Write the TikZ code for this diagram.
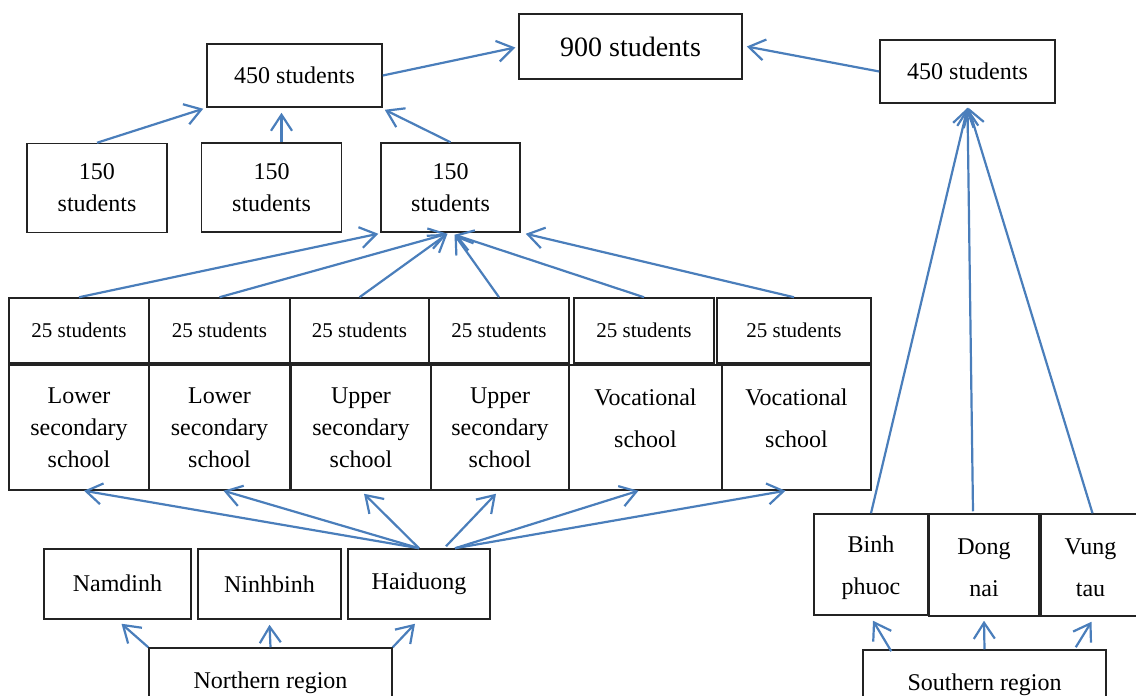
\documentclass[tikz,border=0pt]{standalone}
\usepackage{fontspec}
\setmainfont{Liberation Serif}
\usetikzlibrary{arrows.meta,calc}
\definecolor{linkblue}{RGB}{74,126,187}
\definecolor{boxline}{RGB}{35,35,35}

\begin{document}
\begin{tikzpicture}[x=1pt,y=-1pt,
  box/.style={draw=boxline, line width=1.5pt, inner sep=0pt, align=center,
              font=\fontsize{24}{32}\selectfont},
  sz/.style 2 args={minimum width=#1pt, minimum height=#2pt},
  small/.style={font=\fontsize{21}{26}\selectfont},
  big/.style={font=\fontsize{28}{34}\selectfont},
  lbl/.style={align=center, inner sep=0pt, font=\fontsize{24}{42}\selectfont},
  link/.style={draw=linkblue, line width=2.2pt,
               -{Straight Barb[length=16pt,width=21pt]}},
]
\useasboundingbox (0,0) rectangle (1136,696);

% totals
\node[box,big,sz={223}{65}] (total) at (630.5,46.5) {900 students};
\node[box,sz={175}{63}] (northsum) at (294.5,75.5) {450 students};
\node[box,sz={175}{63}] (southsum) at (967.5,71.5) {450 students};

% provincial totals
\node[box,sz={140}{89}] (pa) at (97,188) {150\\students};
\node[box,sz={140}{89}] (pb) at (271.5,187.5) {150\\students};
\node[box,sz={139}{89}] (pc) at (450.5,187.5) {150\\students};

% samples per school
\node[box,small,sz={140}{65}] (s1) at (79,330.5) {25 students};
\node[box,small,sz={141}{65}] (s2) at (219.5,330.5) {25 students};
\node[box,small,sz={139}{65}] (s3) at (359.5,330.5) {25 students};
\node[box,small,sz={140}{65}] (s4) at (499,330.5) {25 students};
\node[box,small,sz={140}{65}] (s5) at (644,330.5) {25 students};
\node[box,small,sz={154}{65}] (s6) at (794,330.5) {25 students};

% schools
\node[box,sz={140}{125}] (t1) at (79,427.5) {Lower\\secondary\\school};
\node[box,sz={141}{125}] (t2) at (219.5,427.5) {Lower\\secondary\\school};
\node[box,sz={140}{125}] (t3) at (361,427.5) {Upper\\secondary\\school};
\node[box,sz={138}{125}] (t4) at (500,427.5) {Upper\\secondary\\school};
\node[box,sz={153}{125},label={[lbl,yshift=9pt]center:{Vocational\\school}}] (t5) at (645.5,427.5) {};
\node[box,sz={149}{125},label={[lbl,yshift=9pt]center:{Vocational\\school}}] (t6) at (796.5,427.5) {};

% northern provinces
\node[box,sz={147}{70}] (nam) at (117.5,584) {\raisebox{2pt}{Namdinh}};
\node[box,sz={143}{70}] (ninh) at (269.5,584) {Ninhbinh};
\node[box,sz={142}{70}] (hai) at (419,584) {\raisebox{2pt}{Haiduong}};
\node[box,sz={243}{70}] (north) at (270.5,683) {Northern region};

% southern provinces
\node[box,sz={114}{101},label={[lbl,yshift=-3pt]center:{Binh\\phuoc}}] (binh) at (871,564.5) {};
\node[box,sz={110}{102},label={[lbl,yshift=-3pt]center:{Dong\\nai}}] (dong) at (984,565) {};
\node[box,sz={99}{102},label={[lbl,yshift=-3pt]center:{Vung\\tau}}] (vung) at (1090.5,565) {};
\node[box,sz={243}{70}] (south) at (984.5,685) {Southern region};

% upper links
\draw[link] (northsum.east) -- ($(total.west)+(-3,1)$);
\draw[link] (southsum.west) -- ($(total.east)+(4,0)$);
\draw[link] (pa.north) -- ($(northsum.south west)+(-3,1)$);
\draw[link] ($(pb.north)+(10,0)$) -- ($(pb.north |- northsum.south)+(10,5)$);
\draw[link] (pc.north) -- ($(northsum.south east)+(2,2)$);

% samples to provincial total
\draw[link] (s1.north) -- ($(pc.south west)+(-2,1)$);
\draw[link] (s2.north) -- ($(pc.south)+(-3,1)$);
\draw[link] (s3.north) -- ($(pc.south)+(-3,1)$);
\draw[link] (s4.north) -- ($(pc.south)+(4,2)$);
\draw[link] (s5.north) -- ($(pc.south)+(4,2)$);
\draw[link] (s6.north) -- ($(pc.south east)+(5,1)$);

% province to schools
\draw[link] (hai.north) -- ($(t1.south)+(5,0)$);
\draw[link] (hai.north) -- ($(t2.south)+(4,0)$);
\draw[link] (hai.north) -- ($(t3.south)+(3,3)$);
\draw[link] ($(hai.north)+(27,-2)$) -- ($(t4.south)+(-4,3)$);
\draw[link] ($(hai.north)+(36,0)$) -- ($(t5.south)+(-7,0)$);
\draw[link] ($(hai.north)+(36,0)$) -- ($(t6.south)+(-11,0)$);

% region to provinces
\draw[link] (north.north west) -- ($(nam.south)+(4,4)$);
\draw[link] (north.north) -- ($(ninh.south)+(0,5)$);
\draw[link] (north.north east) -- ($(hai.south)+(-4,4)$);
\draw[link] ($(south.north west)+(29,2)$) -- ($(binh.south)+(2,5)$);
\draw[link] (south.north) -- ($(dong.south)+(0,4)$);
\draw[link] ($(south.north east)+(-31,-2)$) -- ($(vung.south)+(1,5)$);

% southern provinces to southern total
\draw[link] (binh.north) -- ($(southsum.south)+(0,4)$);
\draw[link] ($(dong.north)+(-11,-2)$) -- ($(southsum.south)+(0,4)$);
\draw[link] ($(vung.north)+(2,0)$) -- ($(southsum.south)+(1,4)$);
\end{tikzpicture}
\end{document}
